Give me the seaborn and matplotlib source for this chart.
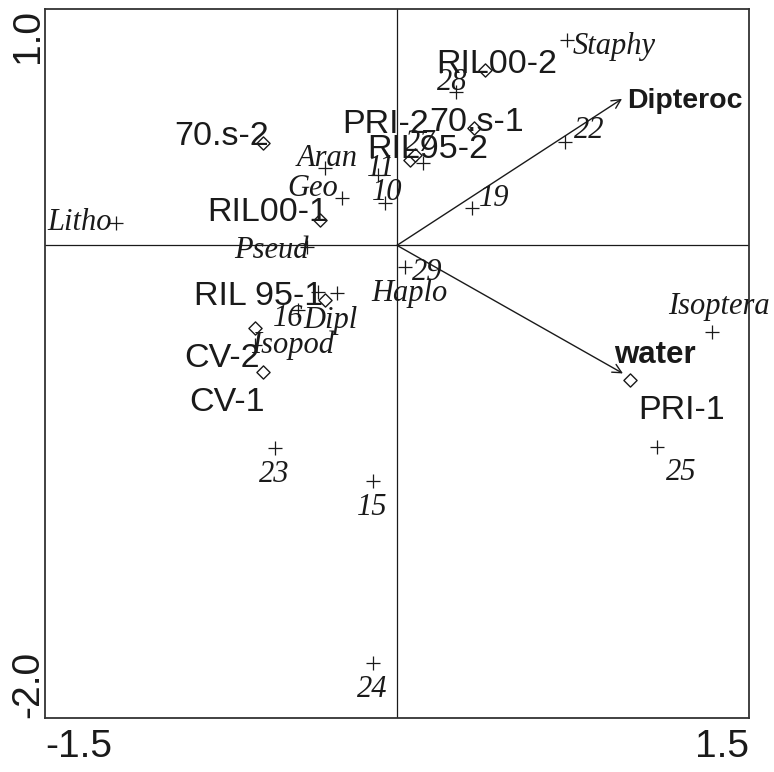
import seaborn as sns
import matplotlib.pyplot as plt
import pandas as pd

# --- DATA ---
species = ['Staphy', '28', '22', '19', '11', '10', '27', 'Aran', 'Geo', 'Litho',
           'Pseud', '29', 'Haplo', '16', 'Dipl', 'Isopod', 'Isoptera', '25', '23',
           '15', '24']
species_x = [0.724, 0.251, 0.716, 0.320, -0.080, -0.050, 0.110, -0.307, -0.234, -1.197,
             -0.383, 0.034, -0.256, -0.422, -0.337, -0.605, 1.342, 1.108, -0.520,
             -0.102, -0.102]
species_y = [0.868, 0.647, 0.436, 0.157, 0.296, 0.180, 0.347, 0.326, 0.199, 0.093,
             -0.008, -0.093, -0.203, -0.275, -0.199, -0.423, -0.368, -0.855, -0.859,
             -0.999, -1.769]

sites = ['RIL00-2', '70.s-1', 'PRI-2', 'RIL95-2', '70.s-2', 'RIL00-1', 'RIL 95-1',
         'CV-2', 'CV-1', 'PRI-1']
sites_x = [0.375, 0.328, 0.055, 0.077, -0.571, -0.328, -0.307, -0.605, -0.571, 0.993]
sites_y = [0.741, 0.495, 0.360, 0.381, 0.432, 0.106, -0.233, -0.351, -0.537, -0.571]

env_vars = ['Dipteroc', 'water']
env_x = [0.959, 0.963]
env_y = [0.620, -0.542]

# label offsets in pixels (dx right, dy down) relative to the marker
species_off = {
    'Staphy': (6, 6, 'left'), '28': (-4, -10, 'center'), '22': (24, -12, 'center'),
    '19': (22, -10, 'center'), '11': (3, -7, 'center'), '10': (2, -10, 'center'),
    '27': (-3, -20, 'center'), 'Aran': (2, -10, 'center'), 'Geo': (-29, -10, 'center'),
    'Litho': (-36, -1, 'center'), 'Pseud': (-36, 3, 'center'), '29': (22, 5, 'center'),
    'Haplo': (73, 0, 'center'), '16': (-10, 8, 'center'), 'Dipl': (13, 28, 'center'),
    'Isopod': (38, 0, 'center'), 'Isoptera': (7, -26, 'center'), '25': (24, 25, 'center'),
    '23': (-1, 26, 'center'), '15': (-1, 26, 'center'), '24': (-1, 26, 'center'),
}
sites_off = {
    'RIL00-2': (12, -6), '70.s-1': (3, -6), 'PRI-2': (-24, -36), 'RIL95-2': (13, -6),
    '70.s-2': (-41, -7), 'RIL00-1': (-52, -8), 'RIL 95-1': (-66, -4), 'CV-2': (-33, 30),
    'CV-1': (-36, 30), 'PRI-1': (52, 30),
}
env_off = {'Dipteroc': (5, 2, 'left', 20.5), 'water': (-9, -18, 'left', 22.5)}

df_sp = pd.DataFrame({'name': species, 'x': species_x, 'y': species_y})
df_st = pd.DataFrame({'name': sites, 'x': sites_x, 'y': sites_y})

# --- PLOT ---
sns.set_style("white")
plt.rcParams['font.family'] = ['Liberation Sans', 'DejaVu Sans']
ink = '#1a1a1a'

fig = plt.figure(figsize=(7.74, 7.72), dpi=100)
ax = fig.add_axes([0.0581, 0.0699, 0.9096, 0.9184])

ax.axhline(0, color=ink, lw=0.9, zorder=1)
ax.axvline(0, color=ink, lw=0.9, zorder=1)

sns.scatterplot(data=df_sp, x='x', y='y', marker='+', s=90, color=ink,
                linewidth=0.9, ax=ax, zorder=3)
sns.scatterplot(data=df_st, x='x', y='y', marker='D', s=45, facecolor='white',
                edgecolor=ink, linewidth=1.0, ax=ax, zorder=3)

for name, x, y in zip(species, species_x, species_y):
    dx, dy, ha = species_off[name]
    ax.annotate(name, (x, y), xytext=(dx, -dy), textcoords='offset pixels',
                ha=ha, va='center', fontsize=22, style='italic',
                family=['Liberation Serif'], color=ink, zorder=4)

for name, x, y in zip(sites, sites_x, sites_y):
    dx, dy = sites_off[name]
    ax.annotate(name, (x, y), xytext=(dx, -dy), textcoords='offset pixels',
                ha='center', va='center', fontsize=24.5, color=ink, zorder=4)

for name, x, y in zip(env_vars, env_x, env_y):
    dx, dy, ha, fs = env_off[name]
    ax.annotate('', xy=(x, y), xytext=(0, 0),
                arrowprops=dict(arrowstyle='->', lw=1.0, color=ink,
                                shrinkA=0, shrinkB=0, mutation_scale=16), zorder=2)
    ax.annotate(name, (x, y), xytext=(dx, -dy), textcoords='offset pixels',
                ha=ha, va='center', fontsize=fs, fontweight='bold', color=ink, zorder=4)

ax.set_xlim(-1.5, 1.5)
ax.set_ylim(-2.0, 1.0)
ax.set_xlabel('')
ax.set_ylabel('')

xt = [-1.5, -1.0, -0.5, 0, 0.5, 1.0, 1.5]
yt = [-2.0, -1.5, -1.0, -0.5, 0, 0.5, 1.0]
ax.set_xticks(xt)
ax.set_xticklabels(['-1.5', '', '', '', '', '', '1.5'], fontsize=28)
ax.set_yticks(yt)
ax.set_yticklabels(['-2.0', '', '', '', '', '', '1.0'], fontsize=28, rotation=90)
xl = ax.get_xticklabels()
xl[0].set_ha('left')
xl[-1].set_ha('right')
yl = ax.get_yticklabels()
yl[0].set_va('bottom')
yl[-1].set_va('top')
ax.tick_params(axis='both', direction='inout', length=6, width=1, colors=ink)
ax.tick_params(axis='x', pad=5)
ax.tick_params(axis='y', pad=-4)

for sp in ax.spines.values():
    sp.set_color('#333333')
    sp.set_linewidth(1.3)

plt.savefig('out.png', dpi=100)
